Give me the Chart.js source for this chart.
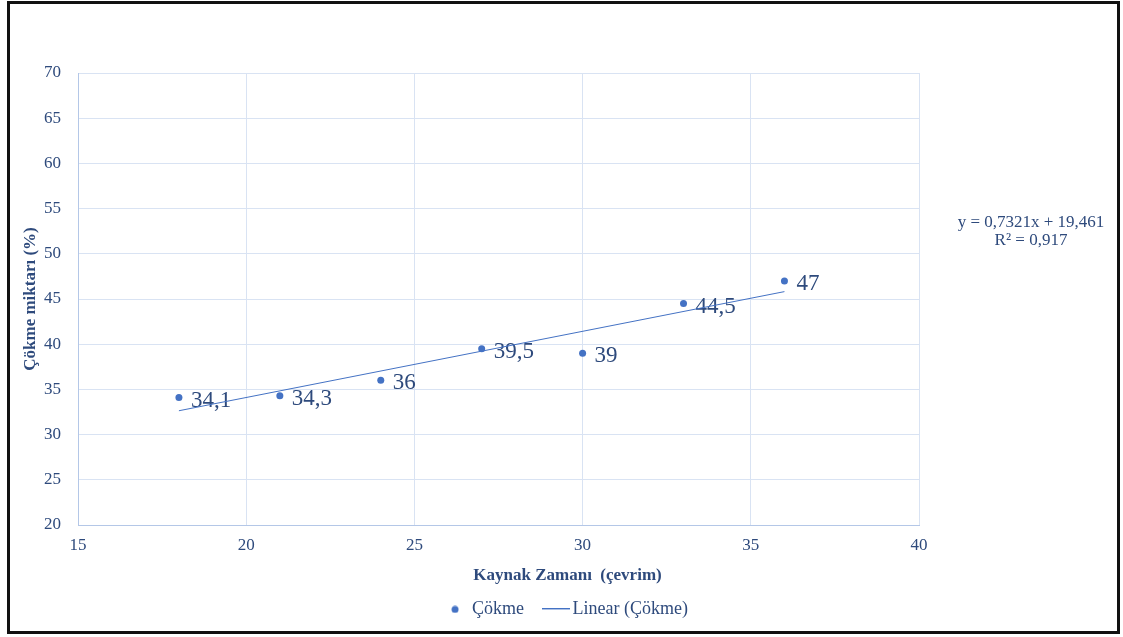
<!DOCTYPE html>
<html>
<head>
<meta charset="utf-8">
<script src="https://cdn.jsdelivr.net/npm/chart.js@4.4.1/dist/chart.umd.min.js"></script>
<style>
	html, body { margin: 0; padding: 0; background: #fff; }
</style>
</head>
<body>
<canvas id="scatter" width="1123" height="637"></canvas>
<script>
// weld time (cycles) vs. settlement (%)
var cycles = [18, 21, 24, 27, 30, 33, 36];
var settlement = [34.1, 34.3, 36, 39.5, 39, 44.5, 47];

// linear trendline as given by the equation
var trendSlope = 0.7321;
var trendIntercept = 19.461;
var trendR2 = 0.917;

var xTicks = [15, 20, 25, 30, 35, 40];
var yTicks = [20, 25, 30, 35, 40, 45, 50, 55, 60, 65, 70];

var blue = '#4472c4';
var textBlue = '#2e4a7c';
var gridBlue = '#d9e3f3';
var serif = "'Liberation Serif', 'Times New Roman', serif";

Chart.defaults.font.family = serif;
Chart.defaults.color = textBlue;

function comma(v) {
	return String(v).replace('.', ',');
}

// small icons for the legend
function makeIcon(w, h, draw) {
	var c = document.createElement('canvas');
	c.width = w;
	c.height = h;
	draw(c.getContext('2d'));
	return c;
}
var dotIcon = makeIcon(8, 8, function(g) {
	g.fillStyle = blue;
	g.beginPath();
	g.arc(4, 4, 3.5, 0, Math.PI * 2);
	g.fill();
});
var lineIcon = makeIcon(28, 2, function(g) {
	g.fillStyle = blue;
	g.fillRect(0, 0, 28, 1);
});

var points = cycles.map(function(x, i) { return {x: x, y: settlement[i]}; });
var xFirst = cycles[0], xLast = cycles[cycles.length - 1];
var trend = [
	{x: xFirst, y: trendSlope * xFirst + trendIntercept},
	{x: xLast, y: trendSlope * xLast + trendIntercept}
];

var extras = {
	id: 'extras',
	beforeDraw: function(chart) {
		var ctx = chart.ctx;
		ctx.save();
		ctx.fillStyle = '#fff';
		ctx.fillRect(0, 0, chart.width, chart.height);
		ctx.strokeStyle = '#111';
		ctx.lineWidth = 3;
		ctx.strokeRect(8.5, 2.5, 1110, 630);
		ctx.restore();
	},
	beforeDatasetsDraw: function(chart) {
		var ctx = chart.ctx;
		var meta = chart.getDatasetMeta(0);
		ctx.save();
		ctx.font = '23px ' + serif;
		ctx.fillStyle = textBlue;
		ctx.textAlign = 'left';
		ctx.textBaseline = 'alphabetic';
		meta.data.forEach(function(el, i) {
			ctx.fillText(comma(settlement[i]), el.x + 12, el.y + 9);
		});
		ctx.restore();
	},
	afterDraw: function(chart) {
		var ctx = chart.ctx;
		var cx = chart.chartArea.right + 112;
		ctx.save();
		ctx.font = '17px ' + serif;
		ctx.fillStyle = textBlue;
		ctx.textAlign = 'center';
		ctx.textBaseline = 'middle';
		ctx.fillText('y = ' + comma(trendSlope) + 'x + ' + comma(trendIntercept), cx, 223);
		ctx.fillText('R² = ' + comma(trendR2), cx, 241);
		ctx.restore();
	}
};

var config = {
	type: 'scatter',
	data: {
		datasets: [
			{
				label: 'Çökme',
				data: points,
				backgroundColor: blue,
				borderColor: blue,
				pointRadius: 3.5,
				pointHoverRadius: 3.5,
				borderWidth: 0
			},
			{
				label: 'Linear (Çökme)',
				type: 'line',
				data: trend,
				borderColor: blue,
				backgroundColor: blue,
				borderWidth: 1,
				pointRadius: 0,
				fill: false
			}
		]
	},
	options: {
		responsive: false,
		animation: false,
		layout: {
			padding: {left: 20, right: 8, top: 73, bottom: 8.6}
		},
		scales: {
			x: {
				type: 'linear',
				min: 15,
				max: 40,
				afterBuildTicks: function(s) { s.ticks = xTicks.map(function(v) { return {value: v}; }); },
				afterFit: function(s) { s.height = 37; },
				ticks: {font: {size: 17}, padding: 10, color: textBlue},
				grid: {color: gridBlue, drawTicks: false},
				border: {color: '#b4c7e7'}
			},
			y: {
				min: 20,
				max: 70,
				afterBuildTicks: function(s) { s.ticks = yTicks.map(function(v) { return {value: v}; }); },
				afterFit: function(s) { s.width = 58; },
				ticks: {font: {size: 17}, padding: 17, color: textBlue},
				grid: {color: gridBlue, drawTicks: false},
				border: {color: '#b4c7e7'},
				title: {
					display: true,
					text: 'Çökme miktarı (%)',
					color: textBlue,
					font: {size: 17, weight: 'bold'},
					padding: {top: 0, bottom: 0}
				}
			},
			yRight: {
				position: 'right',
				display: true,
				afterFit: function(s) { s.width = 196; },
				ticks: {display: false},
				grid: {display: false, drawTicks: false},
				border: {display: false}
			}
		},
		plugins: {
			title: {
				display: true,
				position: 'bottom',
				weight: 500,
				text: 'Kaynak Zamanı  (çevrim)',
				color: textBlue,
				font: {size: 17, weight: 'bold'},
				padding: {top: 3, bottom: 5}
			},
			legend: {
				display: true,
				position: 'bottom',
				labels: {
					usePointStyle: true,
					pointStyleWidth: 16,
					font: {size: 18},
					color: textBlue,
					padding: 10,
					generateLabels: function(chart) {
						var items = Chart.defaults.plugins.legend.labels.generateLabels(chart);
						items[0].pointStyle = dotIcon;
						items[0].text = 'Çökme   ';
						items[1].pointStyle = lineIcon;
						return items;
					}
				}
			},
			tooltip: {enabled: false}
		}
	},
	plugins: [extras]
};

window.onload = function() {
	var ctx = document.getElementById('scatter').getContext('2d');
	window.myScatter = new Chart(ctx, config);
};
</script>
</body>
</html>
